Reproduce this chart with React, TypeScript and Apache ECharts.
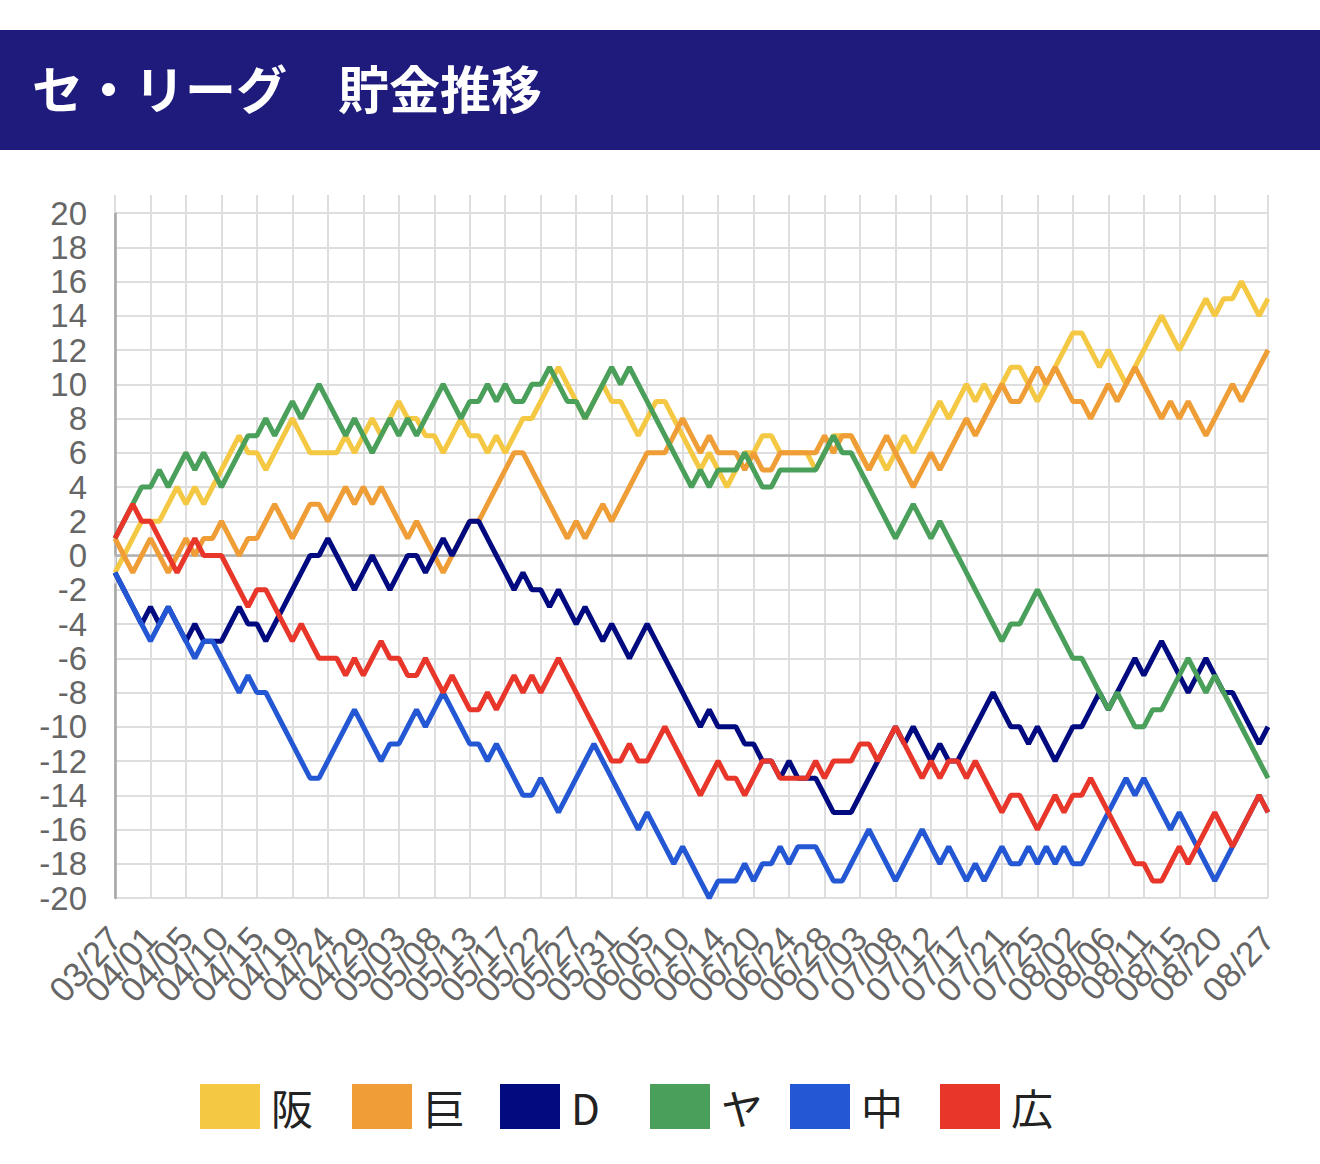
import React, { useEffect, useRef } from "react";
import * as echarts from "echarts";

const dates = [
  "03/27", "03/28", "03/29", "03/30", "04/01", "04/02", "04/03", "04/04",
  "04/05", "04/07", "04/08", "04/09", "04/10", "04/11", "04/12", "04/14",
  "04/15", "04/16", "04/17", "04/18", "04/19", "04/20", "04/22", "04/23",
  "04/24", "04/25", "04/26", "04/27", "04/29", "04/30", "05/01", "05/02",
  "05/03", "05/04", "05/05", "05/07", "05/08", "05/09", "05/10", "05/11",
  "05/13", "05/14", "05/15", "05/16", "05/17", "05/18", "05/20", "05/21",
  "05/22", "05/23", "05/24", "05/25", "05/27", "05/28", "05/29", "05/30",
  "05/31", "06/01", "06/02", "06/04", "06/05", "06/06", "06/07", "06/08",
  "06/10", "06/11", "06/12", "06/13", "06/14", "06/15", "06/18", "06/19",
  "06/20", "06/21", "06/22", "06/23", "06/24", "06/25", "06/26", "06/27",
  "06/28", "06/29", "07/01", "07/02", "07/03", "07/04", "07/05", "07/06",
  "07/08", "07/09", "07/10", "07/11", "07/12", "07/13", "07/15", "07/16",
  "07/17", "07/18", "07/19", "07/20", "07/21", "07/22", "07/23", "07/24",
  "07/25", "07/26", "07/27", "07/28", "08/02", "08/03", "08/04", "08/05",
  "08/06", "08/07", "08/08", "08/10", "08/11", "08/12", "08/13", "08/14",
  "08/15", "08/16", "08/17", "08/19", "08/20", "08/21", "08/22", "08/23",
  "08/24", "08/26", "08/27",
];

const hanshin = [
  -1, 0, 1, 2, 2, 2, 3, 4, 3, 4, 3, 4, 5, 6, 7, 6, 6, 5, 6, 7, 8, 7,
  6, 6, 6, 6, 7, 6, 7, 8, 7, 8, 9, 8, 8, 7, 7, 6, 7, 8, 7, 7, 6, 7, 6,
  7, 8, 8, 9, 10, 11, 10, 9, 8, 9, 10, 9, 9, 8, 7, 8, 9, 9, 8, 7, 6, 5,
  6, 5, 4, 5, 6, 6, 7, 7, 6, 6, 6, 6, 5, 6, 7, 7, 7, 6, 5, 6, 5,
  6, 7, 6, 7, 8, 9, 8, 9, 10, 9, 10, 9, 10, 11, 11, 10, 9, 10, 11, 12, 13, 13, 12, 11,
  12, 11, 10, 11, 12, 13, 14, 13, 12, 13, 14, 15, 14, 15, 15, 16, 15, 14, 15,
];

const kyojin = [
  1, 0, -1, 0, 1, 0, -1, 0, 1, 0, 1, 1, 2, 1, 0, 1, 1, 2, 3, 2, 1, 2,
  3, 3, 2, 3, 4, 3, 4, 3, 4, 3, 2, 1, 2, 1, 0, -1, 0, 1, 2, 2, 3, 4, 5,
  6, 6, 5, 4, 3, 2, 1, 2, 1, 2, 3, 2, 3, 4, 5, 6, 6, 6, 7, 8, 7, 6,
  7, 6, 6, 6, 5, 6, 5, 5, 6, 6, 6, 6, 6, 7, 6, 7, 7, 6, 5, 6, 7,
  6, 5, 4, 5, 6, 5, 6, 7, 8, 7, 8, 9, 10, 9, 9, 10, 11, 10, 11, 10, 9, 9, 8, 9,
  10, 9, 10, 11, 10, 9, 8, 9, 8, 9, 8, 7, 8, 9, 10, 9, 10, 11, 12,
];

const dena = [
  -1, -2, -3, -4, -3, -4, -3, -4, -5, -4, -5, -5, -5, -4, -3, -4, -4, -5, -4, -3, -2, -1,
  0, 0, 1, 0, -1, -2, -1, 0, -1, -2, -1, 0, 0, -1, 0, 1, 0, 1, 2, 2, 1, 0, -1,
  -2, -1, -2, -2, -3, -2, -3, -4, -3, -4, -5, -4, -5, -6, -5, -4, -5, -6, -7, -8, -9, -10,
  -9, -10, -10, -10, -11, -11, -12, -12, -13, -12, -13, -13, -13, -14, -15, -15, -15, -14, -13, -12, -11,
  -10, -11, -10, -11, -12, -11, -12, -12, -11, -10, -9, -8, -9, -10, -10, -11, -10, -11, -12, -11, -10, -10, -9, -8,
  -9, -8, -7, -6, -7, -6, -5, -6, -7, -8, -7, -6, -7, -8, -8, -9, -10, -11, -10,
];

const yakult = [
  1, 2, 3, 4, 4, 5, 4, 5, 6, 5, 6, 5, 4, 5, 6, 7, 7, 8, 7, 8, 9, 8,
  9, 10, 9, 8, 7, 8, 7, 6, 7, 8, 7, 8, 7, 8, 9, 10, 9, 8, 9, 9, 10, 9, 10,
  9, 9, 10, 10, 11, 10, 9, 9, 8, 9, 10, 11, 10, 11, 10, 9, 8, 7, 6, 5, 4, 5,
  4, 5, 5, 5, 6, 5, 4, 4, 5, 5, 5, 5, 5, 6, 7, 6, 6, 5, 4, 3, 2,
  1, 2, 3, 2, 1, 2, 1, 0, -1, -2, -3, -4, -5, -4, -4, -3, -2, -3, -4, -5, -6, -6, -7, -8,
  -9, -8, -9, -10, -10, -9, -9, -8, -7, -6, -7, -8, -7, -8, -9, -10, -11, -12, -13,
];

const chunichi = [
  -1, -2, -3, -4, -5, -4, -3, -4, -5, -6, -5, -5, -6, -7, -8, -7, -8, -8, -9, -10, -11, -12,
  -13, -13, -12, -11, -10, -9, -10, -11, -12, -11, -11, -10, -9, -10, -9, -8, -9, -10, -11, -11, -12, -11, -12,
  -13, -14, -14, -13, -14, -15, -14, -13, -12, -11, -12, -13, -14, -15, -16, -15, -16, -17, -18, -17, -18, -19,
  -20, -19, -19, -19, -18, -19, -18, -18, -17, -18, -17, -17, -17, -18, -19, -19, -18, -17, -16, -17, -18,
  -19, -18, -17, -16, -17, -18, -17, -18, -19, -18, -19, -18, -17, -18, -18, -17, -18, -17, -18, -17, -18, -18, -17, -16,
  -15, -14, -13, -14, -13, -14, -15, -16, -15, -16, -17, -18, -19, -18, -17, -16, -15, -14, -15,
];

const hiroshima = [
  1, 2, 3, 2, 2, 1, 0, -1, 0, 1, 0, 0, 0, -1, -2, -3, -2, -2, -3, -4, -5, -4,
  -5, -6, -6, -6, -7, -6, -7, -6, -5, -6, -6, -7, -7, -6, -7, -8, -7, -8, -9, -9, -8, -9, -8,
  -7, -8, -7, -8, -7, -6, -7, -8, -9, -10, -11, -12, -12, -11, -12, -12, -11, -10, -11, -12, -13, -14,
  -13, -12, -13, -13, -14, -13, -12, -12, -13, -13, -13, -13, -12, -13, -12, -12, -12, -11, -11, -12, -11,
  -10, -11, -12, -13, -12, -13, -12, -12, -13, -12, -13, -14, -15, -14, -14, -15, -16, -15, -14, -15, -14, -14, -13, -14,
  -15, -16, -17, -18, -18, -19, -19, -18, -17, -18, -17, -16, -15, -16, -17, -16, -15, -14, -15,
];

const teamNames = ["阪", "巨", "D", "ヤ", "中", "広"];
const teamColors = ["#f4c843", "#ef9e37", "#020a80", "#4a9f5b", "#2457d4", "#e8362a"];
const teamValues = [hanshin, kyojin, dena, yakult, chunichi, hiroshima];
const legendLefts = [200, 352, 500, 650, 790, 940];

const titleText = "セ・リーグ　貯金推移";

const lastIndex = dates.length - 1;
const showTick = (index: number) =>
  (index % 4 === 0 && index <= lastIndex - 6) || index === lastIndex;

const gridColor = "#dedede";
const labelColor = "#666666";
const latinFont = "'Liberation Sans', Arial, sans-serif";
const cjkFont = "'Noto Sans CJK JP', 'Noto Sans', sans-serif";

export default function App() {
  const ref = useRef<HTMLDivElement>(null);

  useEffect(() => {
    if (!ref.current) return;
    const chart = echarts.init(ref.current, undefined, { renderer: "svg" });
    const series: any[] = teamNames.map((name, k) => ({
      name,
      type: "line",
      data: teamValues[k],
      xAxisIndex: 0,
      yAxisIndex: 0,
      showSymbol: false,
      symbol: "none",
      color: teamColors[k],
      lineStyle: { width: 5, color: teamColors[k] },
      z: 3 + k,
      ...(k === 0
        ? {
            markLine: {
              silent: true,
              symbol: "none",
              label: { show: false },
              lineStyle: { color: "#b0b0b0", width: 2.5, type: "solid" },
              data: [{ yAxis: 0 }],
              z: 1,
            },
          }
        : {}),
    }));

    const legends = teamNames.map((name, k) => ({
      data: [name],
      icon: "rect",
      left: legendLefts[k],
      top: 1084,
      padding: 0,
      itemWidth: 60,
      itemHeight: 45,
      textStyle: {
        fontSize: 42,
        color: "#222222",
        fontFamily: cjkFont,
        padding: [0, 0, 0, 6],
      },
    }));

    chart.setOption({
      animation: false,
      backgroundColor: "#ffffff",
      graphic: [
        {
          type: "rect",
          left: 0,
          top: 30,
          shape: { width: 1320, height: 120 },
          style: { fill: "#1f1b7c" },
          z: 0,
        },
        {
          type: "text",
          left: 32,
          top: 61,
          style: {
            text: titleText,
            fill: "#ffffff",
            fontSize: 51,
            fontWeight: "bold",
            fontFamily: cjkFont,
          },
          z: 1,
        },
      ],
      legend: legends,
      grid: { left: 115, right: 52, top: 213, bottom: 266, containLabel: false },
      xAxis: [
        {
          type: "category",
          data: dates,
          boundaryGap: false,
          position: "bottom",
          axisLine: { show: false },
          axisTick: {
            show: true,
            interval: showTick,
            length: 28,
            lineStyle: { color: gridColor, width: 2 },
          },
          axisLabel: {
            interval: 0,
            formatter: (value: string, index: number) => (showTick(index) ? value : ""),
            rotate: 47,
            margin: 34,
            fontSize: 35,
            color: labelColor,
            fontFamily: latinFont,
          },
          splitLine: {
            show: true,
            interval: showTick,
            lineStyle: { color: gridColor, width: 2 },
          },
        },
        {
          type: "category",
          data: dates,
          boundaryGap: false,
          position: "top",
          axisLine: { show: false },
          axisTick: {
            show: true,
            interval: showTick,
            length: 18,
            lineStyle: { color: gridColor, width: 2 },
          },
          axisLabel: { show: false },
          splitLine: { show: false },
        },
      ],
      yAxis: {
        type: "value",
        min: -20,
        max: 20,
        interval: 2,
        axisLine: { show: true, lineStyle: { color: "#a6a6a6", width: 2.5 } },
        axisTick: { show: false },
        axisLabel: {
          showMinLabel: true,
          showMaxLabel: true,
          fontSize: 33,
          lineHeight: 26,
          color: labelColor,
          margin: 28,
          fontFamily: latinFont,
        },
        splitLine: { show: true, lineStyle: { color: gridColor, width: 2 } },
      },
      series,
    });
    return () => chart.dispose();
  }, []);

  return (
    <div
      ref={ref}
      style={{ position: "absolute", left: 0, top: 0, width: 1320, height: 1164 }}
    />
  );
}
